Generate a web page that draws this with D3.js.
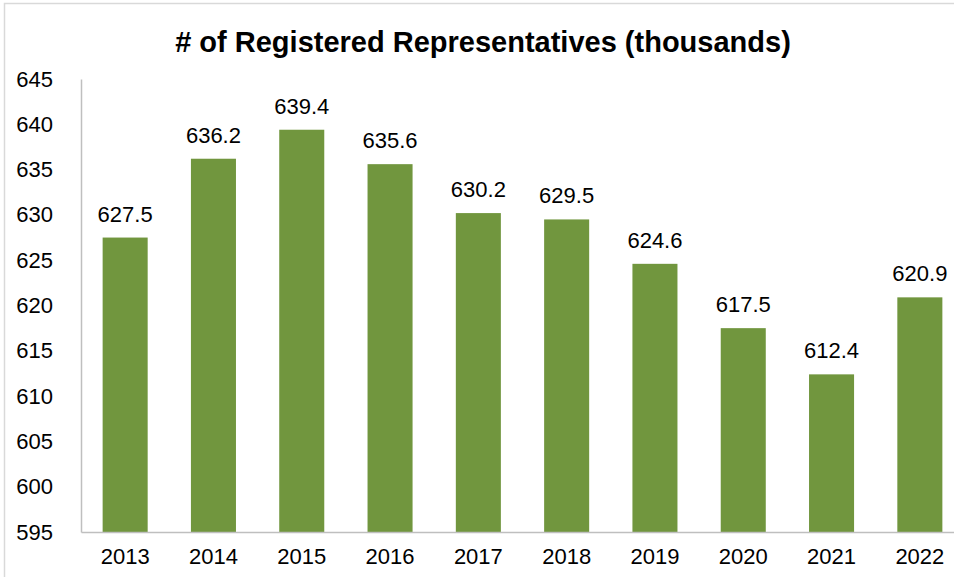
<!DOCTYPE html>
<html>
<head>
<meta charset="utf-8">
<script src="https://cdn.jsdelivr.net/npm/d3@7"></script>
<style>
  body { margin: 0; background: white; }
</style>
</head>
<body>
<div id="canvas"></div>
<script>
var years = ["2013","2014","2015","2016","2017","2018","2019","2020","2021","2022"];
var reps = [627.5, 636.2, 639.4, 635.6, 630.2, 629.5, 624.6, 617.5, 612.4, 620.9];
var yTicks = [595, 600, 605, 610, 615, 620, 625, 630, 635, 640, 645];

var w = 954;
var h = 577;
var svg = d3.select("#canvas").append("svg")
  .attr("width", w)
  .attr("height", h)
  .style("font-family", "Liberation Sans, Arial, sans-serif")

// chart frame (only top and left are visible)
svg.append("rect")
  .attr("x", 4.5).attr("y", 3.5)
  .attr("width", w + 10).attr("height", h + 10)
  .attr("fill", "none")
  .attr("stroke", "#d9d9d9")
  .attr("stroke-width", 1.5)

var xScale = d3.scaleBand()
  .domain(years)
  .range([81, 964])
  .paddingInner(0.49)
  .paddingOuter(0.245)

var yScale = d3.scaleLinear()
  .domain([595, 645])
  .range([532, 79])

svg.append("text")
  .attr("x", 483)
  .attr("y", 52)
  .attr("text-anchor", "middle")
  .style("font-weight", "bold")
  .style("font-size", "29px")
  .attr("fill", "black")
  .text("# of Registered Representatives (thousands)")

svg.selectAll("rect.bar")
  .data(reps)
  .join("rect")
  .attr("class", "bar")
  .attr("x", function(d, i){ return xScale(years[i]); })
  .attr("y", function(d){ return yScale(d); })
  .attr("width", xScale.bandwidth())
  .attr("height", function(d){ return yScale(595) - yScale(d); })
  .attr("fill", "#71963e")

svg.selectAll("text.val")
  .data(reps)
  .join("text")
  .attr("class", "val")
  .attr("x", function(d, i){ return xScale(years[i]) + xScale.bandwidth()/2; })
  .attr("y", function(d){ return yScale(d) - 16; })
  .attr("text-anchor", "middle")
  .style("font-size", "22px")
  .attr("fill", "black")
  .text(function(d){ return d.toFixed(1); })

// axes
var yAxis = svg.append("g")
  .attr("transform", "translate(81,0)")
  .call(d3.axisLeft(yScale).tickValues(yTicks).tickSize(0).tickPadding(28))
yAxis.select(".domain").attr("stroke", "#bfbfbf").attr("stroke-width", 1.5)
yAxis.selectAll("text").style("font-size", "22px").attr("fill", "black")
  .attr("font-family", null)

var xAxis = svg.append("g")
  .attr("transform", "translate(0,532)")
  .call(d3.axisBottom(xScale).tickSize(0).tickPadding(16))
xAxis.select(".domain").attr("stroke", "#bfbfbf").attr("stroke-width", 1.5)
xAxis.selectAll("text").style("font-size", "22px").attr("fill", "black")
  .attr("font-family", null)
</script>
</body>
</html>
